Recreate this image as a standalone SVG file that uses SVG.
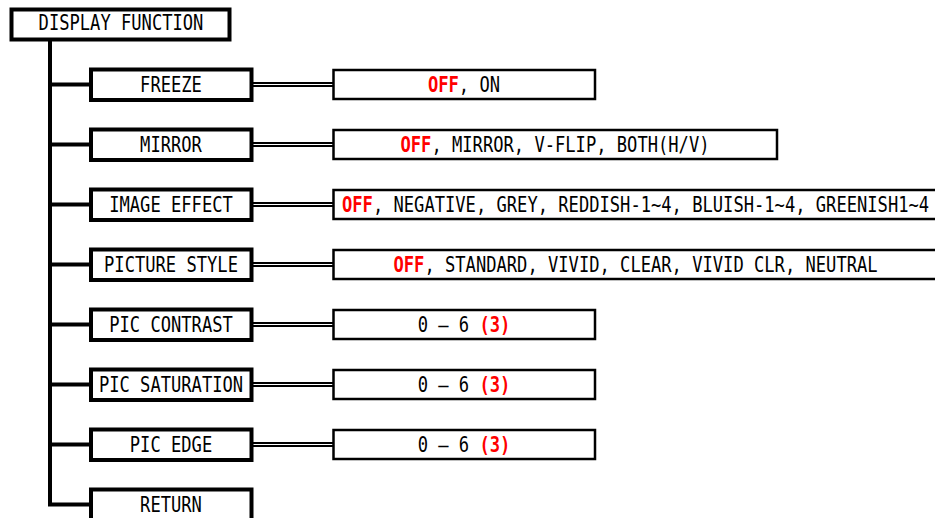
<svg xmlns="http://www.w3.org/2000/svg" width="935" height="518" viewBox="0 0 935 518">
<style>
.bg{fill:#fff}
.top{fill:#fff;stroke:#000;stroke-width:4}
.item{fill:#fff;stroke:#000;stroke-width:4}
.val{fill:#fff;stroke:#000;stroke-width:2.5}
.trunk{fill:none;stroke:#000;stroke-width:4;stroke-linejoin:miter}
.dbl{fill:none;stroke:#000;stroke-width:2}
.t{font-family:"DejaVu Sans Mono","Liberation Mono",monospace;font-size:20.5px;fill:#000}
.m{text-anchor:middle}
.r{fill:#ff0000;font-weight:bold}
</style>
<rect class="bg" x="0" y="0" width="935" height="518"/>
<g id="connectors">
<path class="trunk" d="M50,39.5 V504.5 H91"/>
<path class="trunk" d="M50,84.5 H91 M50,144.5 H91 M50,204.5 H91 M50,264.5 H91 M50,324.5 H91 M50,384.5 H91 M50,444.5 H91"/>
<path class="dbl" d="M251,83 H334 M251,86 H334 M251,143 H334 M251,146 H334 M251,203 H334 M251,206 H334 M251,263 H334 M251,266 H334 M251,323 H334 M251,326 H334 M251,383 H334 M251,386 H334 M251,443 H334 M251,446 H334"/>
</g>
<g id="display-function">
<rect class="top" x="11.5" y="9.5" width="218" height="30"/>
<text class="t m" transform="translate(121,30) scale(0.835,1)">DISPLAY FUNCTION</text>
</g>
<g id="freeze">
<rect class="item" x="91" y="69.5" width="160.5" height="30.5"/>
<text class="t m" transform="translate(171,92) scale(0.835,1)">FREEZE</text>
</g>
<g id="freeze-values">
<rect class="val" x="333.5" y="70" width="261.5" height="29"/>
<text class="t m" transform="translate(464,92) scale(0.835,1)"><tspan class="r">OFF</tspan>, ON</text>
</g>
<g id="mirror">
<rect class="item" x="91" y="129.5" width="160.5" height="30.5"/>
<text class="t m" transform="translate(171,152) scale(0.835,1)">MIRROR</text>
</g>
<g id="mirror-values">
<rect class="val" x="333.5" y="130" width="443.5" height="29"/>
<text class="t m" transform="translate(555,152) scale(0.835,1)"><tspan class="r">OFF</tspan>, MIRROR, V-FLIP, BOTH(H/V)</text>
</g>
<g id="image-effect">
<rect class="item" x="91" y="189.5" width="160.5" height="30.5"/>
<text class="t m" transform="translate(171,212) scale(0.835,1)">IMAGE EFFECT</text>
</g>
<g id="image-effect-values">
<rect class="val" x="333.5" y="190" width="620" height="29"/>
<text class="t" transform="translate(342,212) scale(0.835,1)"><tspan class="r">OFF</tspan>, NEGATIVE, GREY, REDDISH-1~4, BLUISH-1~4, GREENISH1~4</text>
</g>
<g id="picture-style">
<rect class="item" x="91" y="249.5" width="160.5" height="30.5"/>
<text class="t m" transform="translate(171,272) scale(0.835,1)">PICTURE STYLE</text>
</g>
<g id="picture-style-values">
<rect class="val" x="333.5" y="250" width="620" height="29"/>
<text class="t" transform="translate(393.5,272) scale(0.835,1)"><tspan class="r">OFF</tspan>, STANDARD, VIVID, CLEAR, VIVID CLR, NEUTRAL</text>
</g>
<g id="pic-contrast">
<rect class="item" x="91" y="309.5" width="160.5" height="30.5"/>
<text class="t m" transform="translate(171,332) scale(0.835,1)">PIC CONTRAST</text>
</g>
<g id="pic-contrast-values">
<rect class="val" x="333.5" y="310" width="261.5" height="29"/>
<text class="t m" transform="translate(464,332) scale(0.835,1)">0 – 6 <tspan class="r">(3)</tspan></text>
</g>
<g id="pic-saturation">
<rect class="item" x="91" y="369.5" width="160.5" height="30.5"/>
<text class="t m" transform="translate(171,392) scale(0.835,1)">PIC SATURATION</text>
</g>
<g id="pic-saturation-values">
<rect class="val" x="333.5" y="370" width="261.5" height="29"/>
<text class="t m" transform="translate(464,392) scale(0.835,1)">0 – 6 <tspan class="r">(3)</tspan></text>
</g>
<g id="pic-edge">
<rect class="item" x="91" y="429.5" width="160.5" height="30.5"/>
<text class="t m" transform="translate(171,452) scale(0.835,1)">PIC EDGE</text>
</g>
<g id="pic-edge-values">
<rect class="val" x="333.5" y="430" width="261.5" height="29"/>
<text class="t m" transform="translate(464,452) scale(0.835,1)">0 – 6 <tspan class="r">(3)</tspan></text>
</g>
<g id="return">
<rect class="item" x="91" y="489.5" width="160.5" height="40"/>
<text class="t m" transform="translate(171,512) scale(0.835,1)">RETURN</text>
</g>
</svg>
